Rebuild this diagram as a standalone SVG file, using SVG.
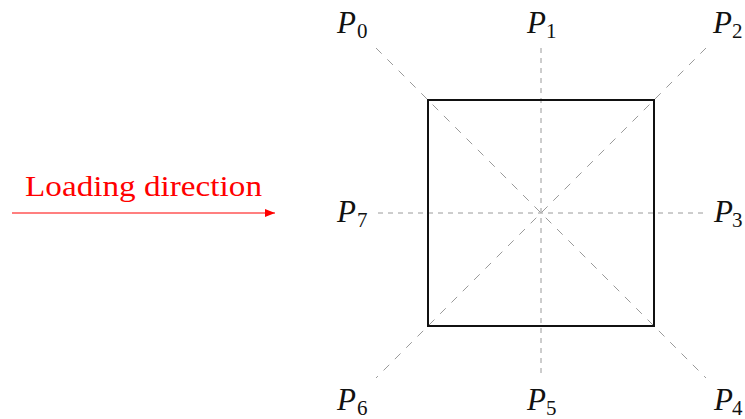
<svg xmlns="http://www.w3.org/2000/svg" width="745" height="419" viewBox="0 0 745 419">
<defs>
<style>
.guide{stroke:#9a9a9a;stroke-width:1;fill:none}
.h{stroke-dasharray:5 5}
.d{stroke-dasharray:8 8}
.sq{stroke:#111;stroke-width:2;fill:none}
.P{font-style:italic;font-size:31px;fill:#111}
.s{font-size:21px;fill:#111}
.load{font-size:30px;fill:#ff0000}
</style>
<marker id="ah" markerWidth="10" markerHeight="8" refX="10" refY="4" orient="auto" markerUnits="userSpaceOnUse">
<path d="M0,0 L10,4 L0,8 Z" fill="#ff0000"/>
</marker>
</defs>
<g id="connectors">
<line class="guide h" x1="378" y1="213" x2="704" y2="213"/>
<line class="guide h" x1="541" y1="48" x2="541" y2="378"/>
<line class="guide d" x1="376" y1="48" x2="706" y2="378"/>
<line class="guide d" x1="706" y1="48" x2="376" y2="378"/>
<line x1="12" y1="213" x2="275" y2="213" stroke="#ff0000" stroke-width="1.2" marker-end="url(#ah)"/>
</g>
<g id="square"><rect class="sq" x="428" y="100" width="226" height="226"/></g>
<g font-family="'Liberation Serif', 'Times New Roman', 'DejaVu Serif', serif">
<g id="loading"><text class="load" x="25" y="196" textLength="237" lengthAdjust="spacingAndGlyphs">Loading direction</text></g>
<g id="P0"><text class="P" x="337" y="33">P</text><text class="s" x="357" y="38">0</text></g>
<g id="P1"><text class="P" x="527" y="33">P</text><text class="s" x="546" y="38">1</text></g>
<g id="P2"><text class="P" x="713" y="33">P</text><text class="s" x="732" y="38">2</text></g>
<g id="P3"><text class="P" x="714" y="222">P</text><text class="s" x="732" y="227">3</text></g>
<g id="P4"><text class="P" x="714" y="410">P</text><text class="s" x="732" y="415">4</text></g>
<g id="P5"><text class="P" x="527" y="410">P</text><text class="s" x="546" y="415">5</text></g>
<g id="P6"><text class="P" x="337" y="410">P</text><text class="s" x="357" y="415">6</text></g>
<g id="P7"><text class="P" x="337" y="222">P</text><text class="s" x="357" y="227">7</text></g>
</g>
</svg>
